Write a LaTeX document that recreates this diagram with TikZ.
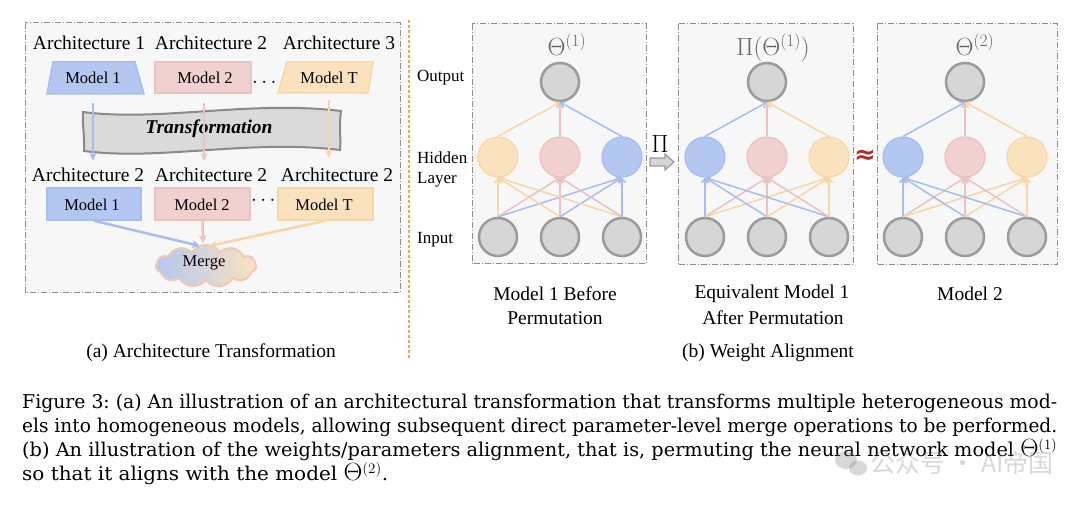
\documentclass[tikz,border=0pt]{standalone}
\usepackage[no-math]{fontspec}
\setmainfont{Liberation Serif}
\newfontfamily\cjkfont{Noto Sans CJK SC}
\newfontfamily\capserif{DejaVu Serif}
\newfontfamily\symsans{DejaVu Sans}
\usepackage{amsmath}
\usepackage{graphicx}
\usetikzlibrary{arrows.meta,shapes.symbols,shapes.geometric}
\definecolor{bF}{HTML}{B4C7F1}
\definecolor{bD}{HTML}{A6BDF0}
\definecolor{pF}{HTML}{F1D0D0}
\definecolor{pD}{HTML}{EBC1C1}
\definecolor{oF}{HTML}{FBE2BF}
\definecolor{oD}{HTML}{F8D6A6}
\definecolor{gF}{HTML}{D6D6D6}
\definecolor{gD}{HTML}{9B9B9B}
\definecolor{panel}{HTML}{F7F7F7}
\definecolor{frame}{HTML}{8E8E8E}
\definecolor{sepC}{HTML}{F0A850}
\definecolor{ribbon}{HTML}{DADADA}
\definecolor{ribbonD}{HTML}{8A8A8A}
\definecolor{thetaC}{HTML}{666666}
\definecolor{approxC}{HTML}{B22B2B}
\newcommand{\bigtheta}{{\fontsize{23}{24}\selectfont$\Theta$}}
\begin{document}
\begin{tikzpicture}[x=1pt,y=-1pt,
  lbl/.style={font=\fontsize{19.5}{22}\selectfont, inner sep=0pt},
  mlbl/.style={font=\fontsize{16.5}{19}\selectfont, inner sep=0pt},
  slbl/.style={font=\fontsize{17}{19}\selectfont, inner sep=0pt, anchor=west},
  dotlbl/.style={font=\fontsize{22}{22}\selectfont, inner sep=0pt, anchor=base},
  panelbox/.style={draw=frame, fill=panel, line width=1pt, dash pattern=on 6pt off 2pt on 1pt off 2pt},
  gnode/.style={circle, minimum size=38pt, inner sep=0pt, fill=gF, draw=gD, line width=2.5pt},
  hnode/.style={circle, minimum size=40pt, inner sep=0pt, line width=1.2pt},
  edge/.style={line width=1.5pt, -{Straight Barb[length=4pt,width=7pt]}},
  darrow/.style={line width=2.2pt, -{Stealth[length=8pt,width=7pt]}},
  thetalbl/.style={font=\fontsize{25}{27}\selectfont, text=thetaC, inner sep=0pt, anchor=base},
  capfont/.style={font=\fontsize{19}{24}\selectfont\capserif, inner sep=0pt, anchor=base west}]
\useasboundingbox[fill=white] (0,0) rectangle (1080,505);

% ---------------- panel (a)
\draw[panelbox] (25,23) rectangle (400,293);
\draw[sepC, line width=1.2pt, dash pattern=on 3pt off 2pt] (409,20) -- (409,360);

\node[lbl] (ar1) at (89,43) {Architecture 1};
\node[lbl] (ar2) at (211,43) {Architecture 2};
\node[lbl] (ar3) at (339,43) {Architecture 3};

\draw[fill=bF, draw=bD, line width=1.5pt] (53,62) -- (135,62) -- (144,94) -- (47,94) -- cycle;
\node[mlbl] (t1) at (93,78) {Model 1};
\draw[fill=pF, draw=pD, line width=1.5pt] (155,62) rectangle (251,93);
\node[mlbl] (t2) at (205,78) {Model 2};
\node[dotlbl] (dt) at (266,88) {$\cdots$};
\draw[fill=oF, draw=oD, line width=1.5pt] (287,62) -- (373,62) -- (368,93) -- (278,93) -- cycle;
\node[mlbl] (t3) at (329,78) {Model T};

% transformation ribbon
\draw[fill=ribbon, draw=ribbonD, line width=2pt]
  (83,112) .. controls (160,122) and (250,100) .. (341,111)
  .. controls (339,124) and (341,138) .. (340,150)
  .. controls (250,139) and (160,161) .. (84,151)
  .. controls (85,138) and (82,124) .. (83,112) -- cycle;
\node[font=\fontsize{19.5}{22}\selectfont\bfseries\itshape, inner sep=0pt] (tr) at (209,129) {Transformation};

\coordinate (s1) at (93,103);  \coordinate (e1) at (93,161);
\coordinate (s2) at (204,103); \coordinate (e2) at (204,161);
\coordinate (s3) at (329,100); \coordinate (e3) at (329,158);
\draw[darrow, bD] (s1) -- (e1);
\draw[darrow, pD] (s2) -- (e2);
\draw[darrow, oD] (s3) -- (e3);

\node[lbl] (br1) at (88,175) {Architecture 2};
\node[lbl] (br2) at (211,175) {Architecture 2};
\node[lbl] (br3) at (337,175) {Architecture 2};

\node[draw=bD, fill=bF, line width=1.5pt, minimum width=94pt, minimum height=32pt, inner sep=0pt] (b1) at (94,204) {};
\node[mlbl] (bt1) at (92,205) {Model 1};
\node[draw=pD, fill=pF, line width=1.5pt, minimum width=95pt, minimum height=32pt, inner sep=0pt] (b2) at (202.5,204) {};
\node[mlbl] (bt2) at (202,205) {Model 2};
\node[dotlbl] (dt2) at (265,206) {$\cdots$};
\node[draw=oD, fill=oF, line width=1.5pt, minimum width=95pt, minimum height=32pt, inner sep=0pt] (b3) at (325.5,204) {};
\node[mlbl] (bt3) at (324,205) {Model T};

\node[cloud, cloud puffs=11, cloud puff arc=110, aspect=2.4, minimum width=100pt, minimum height=42pt,
      inner sep=0pt, draw=pD!60!oD, line width=2pt,
      left color=bF, middle color=pF, right color=oF] (merge) at (206,266) {};
\node[mlbl] (mt) at (204,263) {Merge};

\coordinate (mA) at (200,246);
\coordinate (mB) at (203,243);
\coordinate (mC) at (209,246);
\draw[line width=2.5pt, bD, -{Stealth[length=8pt,width=8pt]}] (b1.south) -- (mA);
\draw[line width=2.5pt, pD, -{Stealth[length=8pt,width=8pt]}] (b2.south) -- (mB);
\draw[line width=2.5pt, oD, -{Stealth[length=8pt,width=8pt]}] (b3.south) -- (mC);

\node[lbl] (capa) at (211,353) {(a) Architecture Transformation};

% ---------------- panel (b)
\node[slbl] (lo) at (417,78) {Output};
\node[slbl] (lh) at (417,158) {Hidden};
\node[slbl] (ll) at (417,180) {Layer};
\node[slbl] (li) at (417,240) {Input};

\draw[panelbox] (472,24) rectangle (646,264);
\draw[panelbox] (678,24) rectangle (853,265);
\draw[panelbox] (877,24) rectangle (1057,265);

\foreach \k/\ox/\fa/\fb/\fc/\da/\db/\dc in
  {1/560/oF/pF/bF/oD/pD/bD, 2/767/bF/pF/oF/bD/pD/oD, 3/965/bF/pF/oF/bD/pD/oD}{
  \node[gnode] (o\k) at (\ox,82) {};
  \node[hnode, fill=\fa, draw=\da] (h\k a) at (\ox-62,157) {};
  \node[hnode, fill=\fb, draw=\db] (h\k b) at (\ox,157) {};
  \node[hnode, fill=\fc, draw=\dc] (h\k c) at (\ox+62,157) {};
  \node[gnode] (i\k a) at (\ox-62,237) {};
  \node[gnode] (i\k b) at (\ox,237) {};
  \node[gnode] (i\k c) at (\ox+62,237) {};
  \foreach \i in {a,b,c}{
    \draw[edge, draw=\da] (i\k\i.north) -- (h\k a.south);
    \draw[edge, draw=\db] (i\k\i.north) -- (h\k b.south);
    \draw[edge, draw=\dc] (i\k\i.north) -- (h\k c.south);
  }
  \draw[edge, draw=\da] (h\k a.north) -- (o\k.south);
  \draw[edge, draw=\db] (h\k b.north) -- (o\k.south);
  \draw[edge, draw=\dc] (h\k c.north) -- (o\k.south);
}

\node[thetalbl] (th1) at (567,56) {$\Theta^{(1)}$};
\node[thetalbl] (th2) at (773,56) {$\Pi(\Theta^{(1)})$};
\node[thetalbl] (th3) at (975,56) {$\Theta^{(2)}$};

% permutation arrow
\draw[fill=gF, draw=gD, line width=1.2pt]
  (650,158) -- (665,158) -- (665,154) -- (674,162) -- (665,170) -- (665,166) -- (650,166) -- cycle;
\node[font=\fontsize{23}{25}\selectfont, inner sep=0pt] (pilbl) at (660,144) {$\Pi$};
\node[font=\fontsize{26}{28}\selectfont\symsans\bfseries, text=approxC, inner sep=0pt] (aplbl) at (865,157) {≈};

\node[lbl] (c1a) at (555,294) {Model 1 Before};
\node[lbl] (c1b) at (555,318) {Permutation};
\node[lbl] (c2a) at (772,294) {Equivalent Model 1};
\node[lbl] (c2b) at (773,318) {After Permutation};
\node[lbl] (c3a) at (970,294) {Model 2};
\node[lbl] (capb) at (768,353) {(b) Weight Alignment};

% ---------------- figure caption
\node[capfont] (f1) at (22,408) {\resizebox{1035pt}{\height}{Figure 3:\ (a) An illustration of an architectural transformation that transforms multiple heterogeneous mod-}};
\node[capfont] (f2) at (22,432) {\resizebox{1035pt}{\height}{els into homogeneous models, allowing subsequent direct parameter-level merge operations to be performed.}};
\node[capfont] (f3) at (22,456) {\resizebox{1035pt}{\height}{(b) An illustration of the weights/parameters alignment, that is, permuting the neural network model \bigtheta$^{(1)}$}};
\node[capfont] (f4) at (22,480) {\resizebox{366pt}{\height}{so that it aligns with the model \bigtheta$^{(2)}$.}};

% watermark
\begin{scope}[opacity=0.3]
  \fill[gray] (846,460) ellipse (11pt and 9pt);
  \fill[gray] (858,468) ellipse (9pt and 7.5pt);
  \node[font=\fontsize{25}{27}\selectfont\cjkfont, text=gray, inner sep=0pt, anchor=west] (wm) at (870,463) {公众号 · AI帝国};
\end{scope}
\end{tikzpicture}
\end{document}
